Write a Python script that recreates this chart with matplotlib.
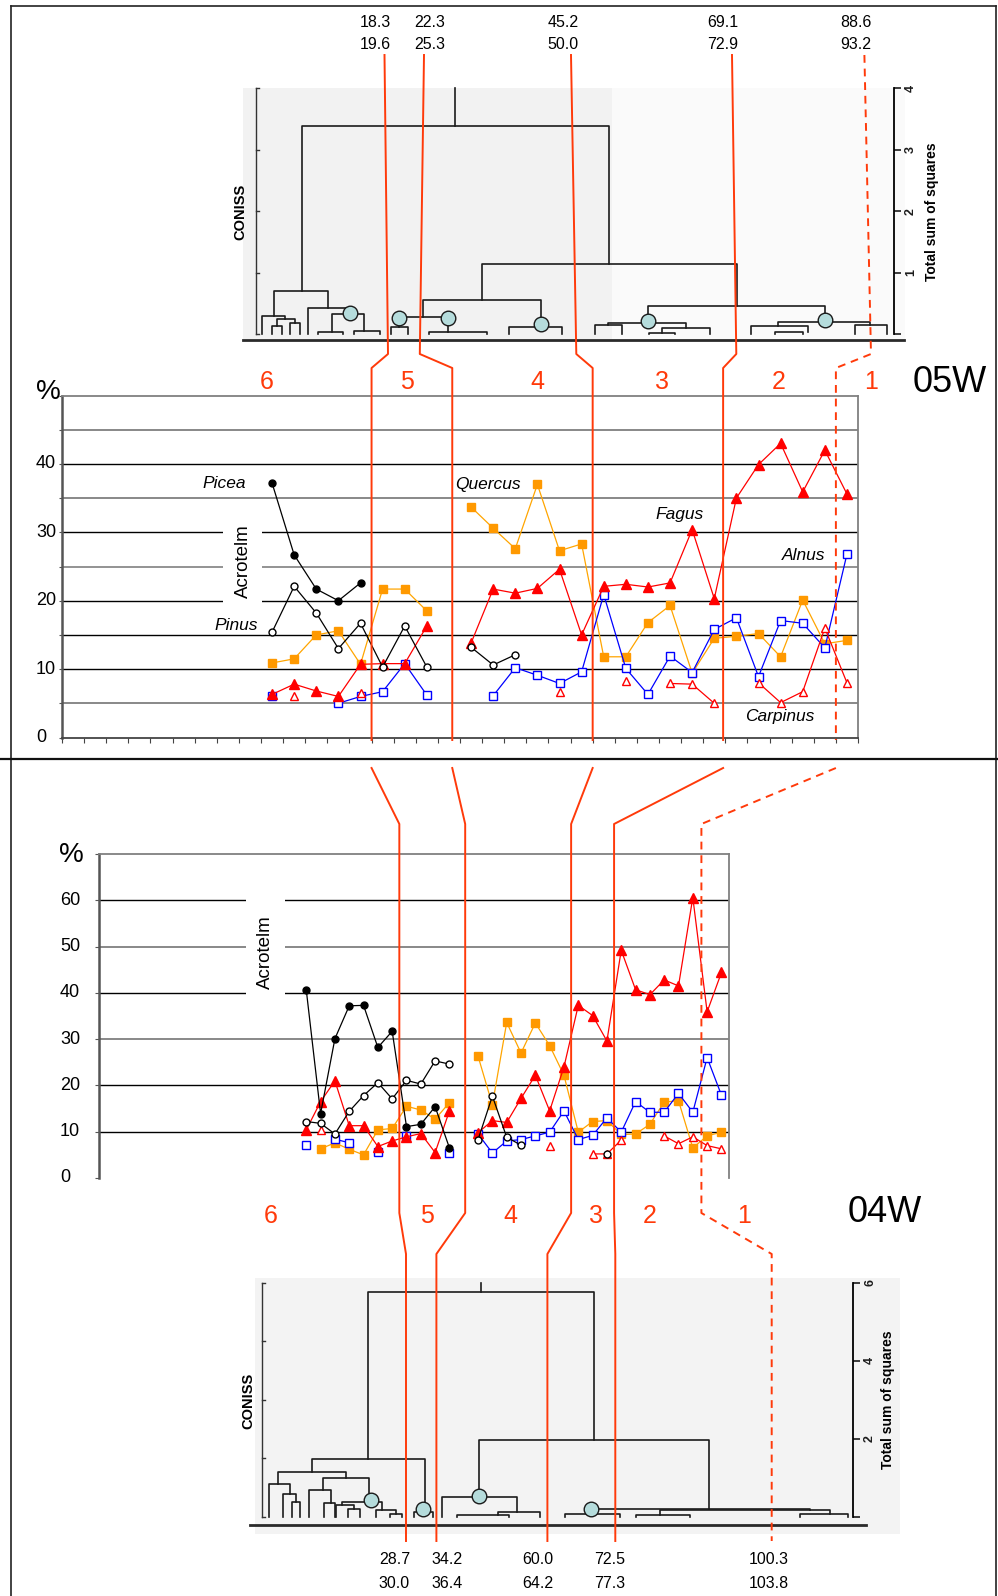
import numpy as np
import matplotlib.pyplot as plt
from matplotlib.patches import Rectangle

plt.rcParams['font.family'] = ['Liberation Sans', 'DejaVu Sans']

W, H = 998, 1596

# pollen percentages, core 05W (sample slots 9..35 on a 36-slot axis)
first_05 = 9
picea_05 = [37.2, 26.7, 21.7, 20.0, 22.6, None, None, None, None, None, None, None, None, None,
            None, None, None, None, None, None, None, None, None, None, None, None, None]
pinus_05 = [15.4, 22.1, 18.2, 13.0, 16.7, 10.3, 16.3, 10.3, None, 13.2, 10.6, 12.1, None, None,
            None, None, None, None, None, None, None, None, None, None, None, None, None]
quercus_05 = [10.9, 11.5, 15.0, 15.6, 10.7, 21.7, 21.7, 18.5, None, 33.7, 30.6, 27.6, 37.0, 27.3,
              28.3, 11.8, 11.8, 16.8, 19.3, 9.4, 14.5, 14.8, 15.2, 11.8, 20.1, 13.7, 14.2]
fagus_05 = [6.3, 7.8, 6.8, 6.0, 10.7, 10.8, 10.8, 16.3, None, 13.8, 21.7, 21.1, 21.8, 24.6,
            15.0, 22.1, 22.4, 22.0, 22.6, 30.4, 20.3, 35.0, 39.9, 43.0, 35.9, 42.0, 35.6]
carpinus_05 = [None, 6.0, None, None, 6.5, None, None, None, None, None, None, None, None, 6.7,
               None, None, 8.3, None, 7.9, 7.8, 5.0, None, 8.0, 5.1, 6.7, 16.0, 8.0]
alnus_05 = [6.0, None, None, 5.0, 6.0, 6.7, 10.8, 6.2, None, None, 6.1, 10.2, 9.1, 7.9,
            9.6, 20.9, 10.1, 6.3, 11.9, 9.5, 15.8, 17.5, 8.9, 17.1, 16.7, 13.1, 26.8]

# pollen percentages, core 04W (sample slots 14..43 on a 44-slot axis)
first_04 = 14
picea_04 = [40.6, 13.9, 30.1, 37.2, 37.3, 28.2, 31.7, 11.1, 11.6, 15.4, 6.5, None, None, None, None,
            None, None, None, None, None, None, None, None, None, None, None, None, None, None, None]
pinus_04 = [12.2, 11.8, 9.5, 14.4, 17.8, 20.6, 17.1, 21.1, 20.3, 25.3, 24.6, None, 8.3, 17.7, 8.8,
            7.1, None, None, None, None, None, 5.2, None, None, None, None, None, None, None, None]
fagus_04 = [10.4, 16.5, 21.0, 11.3, 11.3, 6.8, 8.0, 8.9, 9.6, 5.5, 14.5, None, 9.8, 12.4, 12.0,
            17.2, 22.2, 14.5, 24.0, 37.3, 35.1, 29.6, 49.2, 40.7, 39.6, 42.8, 41.5, 60.6, 35.9, 44.4]
quercus_04 = [None, 6.3, 7.6, 6.2, 5.0, 10.4, 10.7, 15.5, 14.7, 12.7, 16.3, None, 26.3, 15.8, 33.6,
              27.0, 33.5, 28.6, 22.2, 9.9, 12.2, 12.4, 9.4, 9.5, 11.6, 16.4, 16.7, 6.5, 9.1, 9.9]
alnus_04 = [7.1, None, 8.4, 7.6, None, 5.7, None, 9.1, None, None, 5.5, None, 9.5, 5.4, 8.0,
            8.3, 9.1, 9.9, 14.5, 8.3, 9.2, 13.0, 9.9, 16.5, 14.2, 14.2, 18.3, 14.2, 26.0, 17.9]
carpinus_04 = [None, 10.3, None, None, None, None, None, None, None, None, None, None, None, None, None,
               None, None, 7.0, None, None, 5.2, 5.2, 8.2, None, None, 9.1, 7.4, 8.9, 7.0, 6.3]

# zone boundaries (sample-slot units) and their depth labels
zones_05 = [14.0, 17.65, 24.0, 29.9, 35.0]
zones_04 = [21.0, 25.6, 33.0, 36.0, 42.1]
depth_05 = [('18.3', '19.6'), ('22.3', '25.3'), ('45.2', '50.0'), ('69.1', '72.9'), ('88.6', '93.2')]
depth_04 = [('28.7', '30.0'), ('34.2', '36.4'), ('60.0', '64.2'), ('72.5', '77.3'), ('100.3', '103.8')]
zone_names = ['6', '5', '4', '3', '2', '1']

# CONISS dendrograms: (x_left, h_left, h_top, x_right, h_right), h in total sum of squares
coniss_05 = [
    (301.7, 0.70, 3.39, 609.3, 1.14), (274.3, 0.30, 0.70, 328.0, 0.42),
    (261.7, 0.00, 0.30, 285.0, 0.25), (276.7, 0.13, 0.25, 295.0, 0.18),
    (271.7, 0.00, 0.13, 281.7, 0.00), (290.0, 0.00, 0.18, 300.0, 0.00),
    (307.7, 0.00, 0.42, 350.0, 0.33), (331.7, 0.03, 0.33, 364.3, 0.05),
    (317.7, 0.00, 0.03, 343.3, 0.00), (354.0, 0.00, 0.05, 380.0, 0.00),
    (399.0, 0.12, 0.27, 448.3, 0.04), (391.0, 0.00, 0.12, 408.0, 0.00),
    (429.0, 0.00, 0.04, 486.7, 0.00), (423.3, 0.27, 0.55, 540.7, 0.11),
    (509.3, 0.00, 0.11, 562.3, 0.00), (481.7, 0.55, 1.14, 736.7, 0.45),
    (647.7, 0.18, 0.45, 825.0, 0.19), (608.3, 0.14, 0.18, 686.0, 0.09),
    (595.0, 0.00, 0.14, 622.0, 0.00), (662.0, 0.02, 0.09, 710.0, 0.00),
    (649.0, 0.00, 0.02, 675.0, 0.00), (778.0, 0.13, 0.19, 870.0, 0.14),
    (751.0, 0.00, 0.13, 808.0, 0.03), (775.0, 0.00, 0.03, 803.0, 0.00),
    (855.0, 0.00, 0.14, 887.0, 0.00),
]
root_05 = (455.3, 3.39, 4.0)
nodes_05 = [(350.0, 0.35), (399.0, 0.26), (448.3, 0.26), (540.7, 0.17), (647.7, 0.21), (825.0, 0.23)]

coniss_04 = [
    (367.9, 1.47, 5.78, 593.9, 1.97), (311.9, 1.16, 1.47, 425.2, 0.12),
    (278.0, 0.83, 1.16, 345.6, 0.99), (269.3, 0.00, 0.83, 289.6, 0.57),
    (283.3, 0.00, 0.57, 296.0, 0.37), (292.0, 0.00, 0.37, 300.0, 0.00),
    (322.7, 0.69, 0.99, 369.2, 0.37), (309.4, 0.00, 0.69, 331.0, 0.35),
    (324.0, 0.00, 0.35, 335.0, 0.00), (341.8, 0.30, 0.37, 381.9, 0.18),
    (336.0, 0.00, 0.30, 354.0, 0.20), (348.0, 0.00, 0.20, 360.0, 0.00),
    (376.0, 0.00, 0.18, 396.0, 0.08), (390.0, 0.00, 0.08, 402.0, 0.00),
    (413.8, 0.00, 0.12, 433.0, 0.00), (479.3, 0.50, 1.97, 708.5, 0.21),
    (442.4, 0.00, 0.50, 516.9, 0.13), (497.8, 0.05, 0.13, 539.8, 0.00),
    (457.0, 0.00, 0.05, 509.0, 0.00), (590.7, 0.08, 0.21, 809.7, 0.17),
    (565.0, 0.00, 0.08, 620.0, 0.00), (660.0, 0.04, 0.17, 830.0, 0.06),
    (636.0, 0.00, 0.04, 690.0, 0.00), (800.0, 0.00, 0.06, 848.0, 0.00),
]
root_04 = (480.6, 5.78, 6.0)
nodes_04 = [(371.1, 0.43), (423.3, 0.21), (478.7, 0.54), (590.7, 0.19)]

RED = '#FF3A0A'
styles = {
    'Quercus': dict(color='#FFA500', marker='s', mfc='#FF9900', mec='#FF9900', ms=5.5),
    'Alnus': dict(color='#0000FF', marker='s', mfc='white', mec='#0000FF', ms=5.2),
    'Carpinus': dict(color='#FF0000', marker='^', mfc='white', mec='#FF0000', ms=5.5),
    'Fagus': dict(color='#FF0000', marker='^', mfc='#FF0000', mec='#FF0000', ms=6.5),
    'Pinus': dict(color='black', marker='o', mfc='white', mec='black', ms=5),
    'Picea': dict(color='black', marker='o', mfc='black', mec='black', ms=5),
}

fig = plt.figure(figsize=(W / 100, H / 100), dpi=100)


def box(x0, y0, x1, y1):
    # axes placed by pixel corners, y counted from the top
    return fig.add_axes([x0 / W, 1 - y1 / H, (x1 - x0) / W, (y1 - y0) / H])


def draw_core(ax, first, series):
    for name in ['Quercus', 'Alnus', 'Carpinus', 'Fagus', 'Pinus', 'Picea']:
        vals = np.array(series[name], dtype=float)
        x = np.arange(first, first + len(vals)) + 0.5
        ax.plot(x, vals, lw=0.9, mew=1.0, zorder=3, **styles[name])


def grid(ax, levels, colours):
    for lv, c in zip(levels, colours):
        ax.axhline(lv, color=c, lw=1.0 if c == 'black' else 1.3, zorder=1)


# ---------- 05W percentage diagram ----------
X05, Y05a, Y05b, R05 = 62, 395.5, 737.5, 858
ax1 = box(X05, Y05a, R05, Y05b)
ax1.set_xlim(0, 36)
ax1.set_ylim(0, 50)
ax1.set_facecolor('none')
grid(ax1, [5, 10, 15, 20, 25, 30, 35, 40, 45],
     ['#7f7f7f', 'black', 'black', 'black', '#8a8a8a', 'black', '#7f7f7f', 'black', '#7f7f7f'])
ax1.add_patch(Rectangle((7.27, 19.2), 1.78, 14.5, fc='white', ec='none', zorder=1.5))
draw_core(ax1, first_05, dict(Picea=picea_05, Pinus=pinus_05, Quercus=quercus_05,
                              Fagus=fagus_05, Carpinus=carpinus_05, Alnus=alnus_05))
for s in ['top', 'right']:
    ax1.spines[s].set_color('#808080')
    ax1.spines[s].set_linewidth(1.3)
ax1.spines['left'].set_color('#555555')
ax1.spines['left'].set_linewidth(1.8)
ax1.spines['bottom'].set_color('#444444')
ax1.spines['bottom'].set_linewidth(1.3)
ax1.set_xticks(range(37))
ax1.set_xticklabels([])
ax1.tick_params(axis='x', length=3.5, width=0.8, colors='#444444')
ax1.set_yticks(range(0, 51, 5))
ax1.set_yticklabels([])
ax1.tick_params(axis='y', length=2.5, width=0.8, colors='#555555')
for v in range(0, 41, 10):
    ax1.text((36 - X05) / (R05 - X05), v, str(v), transform=ax1.get_yaxis_transform(),
             ha='left', va='center', fontsize=13)

# ---------- 04W percentage diagram ----------
X04, Y04a, Y04b, R04 = 98.7, 854, 1178, 728.6
ax2 = box(X04, Y04a, R04, Y04b)
ax2.set_xlim(0, 44)
ax2.set_ylim(0, 70)
ax2.set_facecolor('none')
grid(ax2, [10, 20, 30, 40, 50, 60], ['black', 'black', '#7f7f7f', 'black', '#7f7f7f', 'black'])
ax2.add_patch(Rectangle((10.29, 38.0), 2.72, 24.0, fc='white', ec='none', zorder=1.5))
draw_core(ax2, first_04, dict(Picea=picea_04, Pinus=pinus_04, Quercus=quercus_04,
                              Fagus=fagus_04, Carpinus=carpinus_04, Alnus=alnus_04))
for s in ['top', 'right']:
    ax2.spines[s].set_color('#808080')
    ax2.spines[s].set_linewidth(1.3)
ax2.spines['left'].set_color('#555555')
ax2.spines['left'].set_linewidth(1.8)
ax2.spines['bottom'].set_visible(False)
ax2.set_xticks([])
ax2.set_yticks(range(0, 71, 10))
ax2.set_yticklabels([])
ax2.tick_params(axis='y', length=3, width=0.8, colors='#555555')
for v in range(0, 61, 10):
    ax2.text((60 - X04) / (R04 - X04), v, str(v), transform=ax2.get_yaxis_transform(),
             ha='left', va='center', fontsize=13)


# ---------- CONISS dendrograms ----------
def dendro(x0, x1, y0, y1, base_px, unit_px, left_x, right_x, top, links, root, nodes,
           haze, base_line):
    d = box(x0, y0, x1, y1)
    d.set_xlim(x0, x1)
    d.set_ylim((base_px - y1) / unit_px, (base_px - y0) / unit_px)
    d.set_facecolor('none')
    for hx0, hx1, hc in haze:
        d.add_patch(Rectangle((hx0, (base_px - y1 + 6) / unit_px), hx1 - hx0,
                              (y1 - y0 - 14) / unit_px, fc=hc, ec='none', zorder=0))
    for xl, hl, ht, xr, hr in links:
        d.plot([xl, xl, xr, xr], [hl, ht, ht, hr], color='#1c1c1c', lw=1.2, zorder=2)
    d.plot([root[0], root[0]], [root[1], root[2]], color='#1c1c1c', lw=1.2, zorder=2)
    for nx, nh in nodes:
        d.plot(nx, nh, 'o', ms=10.5, mfc='#b5dcdc', mec='#1a1a1a', mew=1.0, zorder=4)
    bx0, bx1, bh = base_line
    d.plot([bx0, bx1], [bh, bh], color='#2a2a2a', lw=2.0, zorder=2)
    # left CONISS scale with inward ticks
    d.plot([left_x, left_x], [0, top], color='#333333', lw=1.0)
    for t in np.arange(0, top + 0.01, top / 4):
        d.plot([left_x, left_x + 3], [t, t], color='#333333', lw=1.0)
    for s in ['top', 'bottom', 'left']:
        d.spines[s].set_visible(False)
    d.spines['right'].set_position(('data', right_x))
    d.spines['right'].set_bounds(0, top)
    d.spines['right'].set_linewidth(1.3)
    d.set_xticks([])
    d.yaxis.tick_right()
    return d


d1 = dendro(240, 910, 80, 345, 334, 61.4, 255.7, 894, 4, coniss_05, root_05, nodes_05,
            [(243, 612, '#f2f2f2'), (612, 905, '#fafafa')], (243, 904, -0.098))
d1.set_yticks([0, 1, 2, 3, 4])
d1.set_yticklabels(['', '1', '2', '3', '4'], rotation=90, fontsize=9, fontweight='bold', va='center')
d1.tick_params(axis='y', direction='out', length=5, width=1.2, pad=3, colors='#1c1c1c')

d2 = dendro(245, 905, 1270, 1540, 1516.7, 38.95, 262, 853, 6, coniss_04, root_04, nodes_04,
            [(255, 900, '#f3f3f3')], (249.5, 865.7, -0.213))
d2.set_yticks([0, 2, 4, 6])
d2.set_yticklabels(['', '2', '4', '6'], rotation=90, fontsize=9, fontweight='bold', va='center')
d2.tick_params(axis='y', direction='out', length=5, width=1.2, pad=3, colors='#1c1c1c')

# ---------- overlay: frame, zone lines, labels ----------
ov = fig.add_axes([0, 0, 1, 1])
ov.set_xlim(0, W)
ov.set_ylim(H, 0)
ov.set_facecolor('none')
ov.axis('off')

ov.plot([11, 11], [6, H], color='#222222', lw=1.2)
ov.plot([11, 996], [6, 6], color='#222222', lw=1.2)
ov.plot([996, 996], [6, H], color='#222222', lw=1.2)
ov.plot([0, W], [759, 759], color='#111111', lw=1.6)

top_x = [384.5, 424.0, 571.0, 732.0, 864.4]
knee_x = [388.0, 419.8, 576.3, 736.3, 871.0]
bot_x = [406.0, 436.4, 547.4, 615.3, 771.7]
cw05 = (R05 - X05) / 36
cw04 = (R04 - X04) / 44
for k in range(5):
    dash = dict(ls='--', dashes=(4, 3)) if k == 4 else dict(ls='-')
    c5 = X05 + zones_05[k] * cw05
    c4 = X04 + zones_04[k] * cw04
    ov.plot([top_x[k], knee_x[k], c5, c5], [55, 354, 368, 740], color=RED, lw=1.4, **dash)
    ov.plot([c5, c4, c4, bot_x[k], bot_x[k]], [768, 824, 1213, 1254, 1541], color=RED, lw=1.4,
            **dash)

lab05_x = [375, 430, 563, 723, 856]
lab04_x = [394.5, 447, 538, 610, 769]
for k in range(5):
    ov.text(lab05_x[k], 22.5, depth_05[k][0], ha='center', va='center', fontsize=11.5)
    ov.text(lab05_x[k], 44.5, depth_05[k][1], ha='center', va='center', fontsize=11.5)
    ov.text(lab04_x[k], 1560, depth_04[k][0], ha='center', va='center', fontsize=11.5)
    ov.text(lab04_x[k], 1583, depth_04[k][1], ha='center', va='center', fontsize=11.5)

zone05_x = [267, 406.5, 537.5, 662, 779, 871]
zone04_x = [270.5, 426.7, 510.5, 596, 650, 744]
for k in range(6):
    ov.text(zone05_x[k], 382, zone_names[k], color=RED, ha='center', va='center', fontsize=18)
    ov.text(zone04_x[k], 1216, zone_names[k], color=RED, ha='center', va='center', fontsize=18)

ov.text(950, 383, '05W', ha='center', va='center', fontsize=26)
ov.text(885, 1212, '04W', ha='center', va='center', fontsize=26)
ov.text(48, 392, '%', ha='center', va='center', fontsize=20)
ov.text(71, 855, '%', ha='center', va='center', fontsize=20)
ov.text(243.5, 561, 'Acrotelm', rotation=90, ha='center', va='center', fontsize=13.5)
ov.text(265.8, 952.5, 'Acrotelm', rotation=90, ha='center', va='center', fontsize=13.5)

taxa = [('Picea', 246, 484, 'right'), ('Pinus', 258, 625, 'right'), ('Quercus', 455, 484, 'left'),
        ('Fagus', 655, 514, 'left'), ('Alnus', 782, 555, 'left'), ('Carpinus', 745, 716, 'left')]
for name, tx, ty, ha in taxa:
    ov.text(tx, ty, name, style='italic', ha=ha, va='center', fontsize=12.5)

ov.text(240, 212, 'CONISS', rotation=90, ha='center', va='center', fontsize=10.5, fontweight='bold')
ov.text(932, 212, 'Total sum of squares', rotation=90, ha='center', va='center',
        fontsize=10, fontweight='bold')
ov.text(248, 1401, 'CONISS', rotation=90, ha='center', va='center', fontsize=10.5, fontweight='bold')
ov.text(888, 1400, 'Total sum of squares', rotation=90, ha='center', va='center',
        fontsize=10, fontweight='bold')

fig.savefig('out.png', dpi=100)
